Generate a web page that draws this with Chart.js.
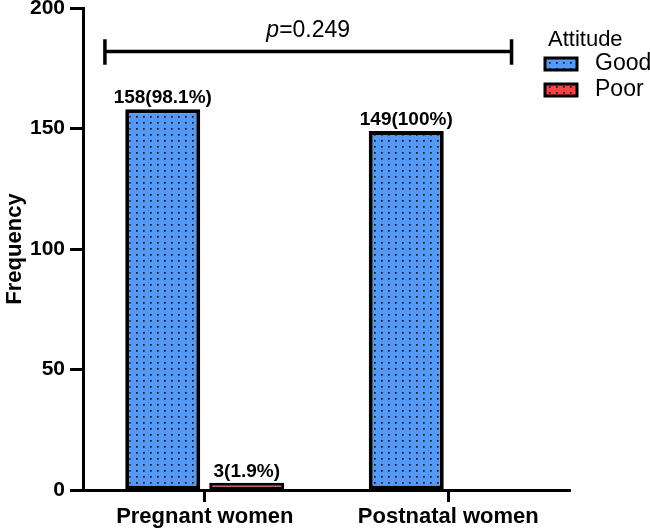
<!DOCTYPE html>
<html>
<head>
<meta charset="utf-8">
<script src="https://cdn.jsdelivr.net/npm/chart.js@4"></script>
<style>body{margin:0;background:#fff}</style>
</head>
<body>
<canvas id="attitudeChart" width="650" height="532"></canvas>
<script>
// data
const groups = ['Pregnant women', 'Postnatal women'];
const goodCounts = [158, 149];
const poorCounts = [3, 0];
const goodText = ['158(98.1%)', '149(100%)'];
const poorText = ['3(1.9%)', ''];
const yTicks = [0, 50, 100, 150, 200];
const pValue = '0.249';

const FONT = '"Liberation Sans", Arial, sans-serif';
const BLUE = '#5499f5';
const RED = '#f24646';

function dotPattern(color) {
  const c = document.createElement('canvas');
  c.width = 7; c.height = 6;
  const g = c.getContext('2d');
  g.fillStyle = color;
  g.fillRect(0, 0, 7, 6);
  g.fillStyle = '#14142a';
  g.fillRect(3, 2, 1.7, 1.7);
  return g.createPattern(c, 'repeat');
}

// value labels above bars
const valueLabels = {
  id: 'valueLabels',
  afterDatasetsDraw(chart) {
    const ctx = chart.ctx;
    ctx.save();
    ctx.font = 'bold 19px ' + FONT;
    ctx.fillStyle = '#000';
    ctx.textAlign = 'center';
    ctx.textBaseline = 'bottom';
    chart.data.datasets.forEach((ds, i) => {
      chart.getDatasetMeta(i).data.forEach((bar, j) => {
        const t = ds.valueText[j];
        if (t) ctx.fillText(t, bar.x, bar.y - 2);
      });
    });
    ctx.restore();
  }
};

// p-value bracket across the groups
const pBracket = {
  id: 'pBracket',
  afterDraw(chart) {
    const xs = chart.scales.x, ys = chart.scales.y;
    const c0 = xs.getPixelForValue(0), step = xs.getPixelForValue(1) - c0;
    const x1 = c0 - 0.41 * step, x2 = c0 + 1.26 * step;
    const yl = ys.getPixelForValue(182);
    const yTop = ys.getPixelForValue(187), yBot = ys.getPixelForValue(176.5);
    const ctx = chart.ctx;
    ctx.save();
    ctx.strokeStyle = '#000';
    ctx.lineWidth = 3.5;
    ctx.beginPath();
    ctx.moveTo(x1, yl); ctx.lineTo(x2, yl);
    ctx.moveTo(x1, yTop); ctx.lineTo(x1, yBot);
    ctx.moveTo(x2, yTop); ctx.lineTo(x2, yBot);
    ctx.stroke();
    ctx.fillStyle = '#000';
    ctx.textBaseline = 'alphabetic';
    ctx.font = 'italic 23px ' + FONT;
    const pw = ctx.measureText('p').width;
    ctx.font = '23px ' + FONT;
    const rest = '=' + pValue;
    const rw = ctx.measureText(rest).width;
    const sx = (x1 + x2) / 2 - (pw + rw) / 2;
    const by = yl - 14;
    ctx.font = 'italic 23px ' + FONT;
    ctx.textAlign = 'left';
    ctx.fillText('p', sx, by);
    ctx.font = '23px ' + FONT;
    ctx.fillText(rest, sx + pw, by);
    ctx.restore();
  }
};

// legend at top right
const sideLegend = {
  id: 'sideLegend',
  afterDraw(chart) {
    const ctx = chart.ctx;
    const lx = chart.chartArea.right - 25;
    ctx.save();
    ctx.fillStyle = '#000';
    ctx.font = '22px ' + FONT;
    ctx.textAlign = 'left';
    ctx.textBaseline = 'alphabetic';
    ctx.fillText('Attitude', lx + 3, 46);
    ctx.textBaseline = 'middle';
    chart.data.datasets.forEach((ds, i) => {
      const cy = 64 + i * 26;
      ctx.fillStyle = ds.backgroundColor;
      ctx.fillRect(lx, cy - 6, 32, 12);
      ctx.strokeStyle = '#000';
      ctx.lineWidth = 3;
      ctx.strokeRect(lx, cy - 6, 32, 12);
      ctx.fillStyle = '#000';
      ctx.font = '23px ' + FONT;
      ctx.fillText(ds.label, lx + 50, cy);
    });
    ctx.restore();
  }
};

new Chart(document.getElementById('attitudeChart'), {
  type: 'bar',
  data: {
    labels: groups,
    datasets: [{
      label: 'Good',
      data: goodCounts,
      valueText: goodText,
      backgroundColor: dotPattern(BLUE),
      borderColor: '#000',
      borderWidth: c => c.raw ? 4 : 0,
      borderSkipped: false,
      categoryPercentage: 0.69,
      barPercentage: 0.893
    }, {
      label: 'Poor',
      data: poorCounts,
      valueText: poorText,
      backgroundColor: dotPattern(RED),
      borderColor: '#000',
      borderWidth: c => c.raw ? 3 : 0,
      borderSkipped: false,
      categoryPercentage: 0.69,
      barPercentage: 0.893
    }]
  },
  options: {
    responsive: false,
    animation: false,
    layout: { padding: { top: 8, right: 80, left: 0, bottom: 0 } },
    plugins: { legend: { display: false }, tooltip: { enabled: false } },
    scales: {
      x: {
        offset: true,
        afterFit: s => { s.height = 42; s.paddingLeft = 0; s.paddingRight = 0; },
        border: { color: '#000', width: 3 },
        grid: { offset: false, drawOnChartArea: false, tickLength: 12, tickWidth: 3, tickColor: '#000' },
        ticks: { color: '#000', font: { family: FONT, size: 22, weight: 'bold' }, padding: 2 }
      },
      y: {
        min: 0,
        max: 200,
        afterBuildTicks: s => { s.ticks = yTicks.map(v => ({ value: v })); },
        afterFit: s => { s.width = 83; s.paddingTop = 0; s.paddingBottom = 0; },
        border: { color: '#000', width: 3 },
        grid: { drawOnChartArea: false, tickLength: 13, tickWidth: 3, tickColor: '#000' },
        ticks: { color: '#000', font: { family: FONT, size: 21, weight: 'bold' }, padding: 5 },
        title: { display: true, text: 'Frequency', color: '#000', font: { family: FONT, size: 22, weight: 'bold' }, padding: 2 }
      }
    }
  },
  plugins: [valueLabels, pBracket, sideLegend]
});
</script>
</body>
</html>
